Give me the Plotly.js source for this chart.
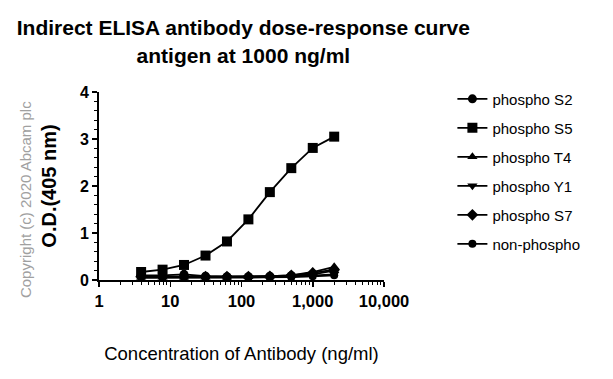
<!DOCTYPE html>
<html>
<head>
<meta charset="utf-8">
<script src="https://cdn.plot.ly/plotly-3.0.1.min.js"></script>
<style>body{margin:0;background:#fff}#chart{width:613px;height:379px}</style>
</head>
<body>
<div id="chart"></div>
<script>
const concentrations = [3.9, 7.8, 15.6, 31.25, 62.5, 125, 250, 500, 1000, 2000];
const seriesNames = ["phospho S2", "phospho S5", "phospho T4", "phospho Y1", "phospho S7", "non-phospho"];
const phosphoS2 = [0.10, 0.10, 0.12, 0.08, 0.07, 0.07, 0.08, 0.09, 0.12, 0.20];
const phosphoS5 = [0.17, 0.22, 0.32, 0.52, 0.82, 1.29, 1.87, 2.38, 2.81, 3.05];
const phosphoT4 = [0.06, 0.06, 0.06, 0.06, 0.06, 0.07, 0.08, 0.10, 0.17, 0.28];
const phosphoY1 = [0.05, 0.05, 0.05, 0.05, 0.05, 0.05, 0.06, 0.07, 0.09, 0.12];
const phosphoS7 = [0.07, 0.07, 0.07, 0.07, 0.07, 0.07, 0.08, 0.10, 0.15, 0.22];
const nonPhospho = [0.05, 0.05, 0.05, 0.05, 0.05, 0.05, 0.05, 0.06, 0.08, 0.10];
const xTickVals = [1, 10, 100, 1000, 10000];
const xTickText = ["1", "10", "100", "1,000", "10,000"];

const allValues = [phosphoS2, phosphoS5, phosphoT4, phosphoY1, phosphoS7, nonPhospho];
const symbols = ["circle", "square", "triangle-up", "triangle-down", "diamond", "circle"];
const sizes = [9, 10, 9, 9, 9, 8];

const traces = allValues.map((vals, i) => ({
  x: concentrations,
  y: vals,
  name: seriesNames[i],
  type: "scatter",
  mode: "lines+markers",
  legendgroup: "g" + i,
  line: {color: "#000", width: 1.8},
  marker: {symbol: symbols[i], size: sizes[i], color: "#000"}
}));

const font = "Arial, 'Liberation Sans', sans-serif";
const layout = {
  width: 613, height: 379,
  margin: {l: 99, r: 229, t: 92, b: 99},
  paper_bgcolor: "#fff", plot_bgcolor: "#fff",
  showlegend: true,
  title: {
    text: "<b>Indirect ELISA antibody dose-response curve<br>antigen at 1000 ng/ml</b>",
    font: {family: font, size: 21, color: "#000"},
    xref: "container", yref: "container",
    x: 0.397, xanchor: "center", y: 0.907, yanchor: "middle"
  },
  xaxis: {
    type: "log", range: [0, 4],
    tickvals: xTickVals, ticktext: xTickText,
    ticks: "outside", ticklen: 5, tickwidth: 1.5, tickcolor: "#000",
    showline: true, linecolor: "#000", linewidth: 2,
    showgrid: false, zeroline: false,
    tickfont: {family: font, size: 16.5, color: "#000", weight: "bold"},
    minor: {ticks: "outside", ticklen: 3, tickcolor: "#000", tickwidth: 1, showgrid: false,
            tickvals: [2,3,4,5,6,7,8,9,20,30,40,50,60,70,80,90,200,300,400,500,600,700,800,900,2000,3000,4000,5000,6000,7000,8000,9000]},
    title: {text: "Concentration of Antibody (ng/ml)", font: {family: font, size: 18.5, color: "#000"}, standoff: 38}
  },
  yaxis: {
    range: [0, 4], dtick: 1,
    ticks: "outside", ticklen: 5, tickwidth: 1.5, tickcolor: "#000",
    showline: true, linecolor: "#000", linewidth: 2,
    showgrid: false, zeroline: false,
    tickfont: {family: font, size: 16, color: "#000", weight: "bold"},
    minor: {ticks: "outside", ticklen: 3, tickcolor: "#000", tickwidth: 1, dtick: 0.2, showgrid: false},
    title: {text: "<b>O.D.(405 nm)</b>", font: {family: font, size: 20, color: "#000"}, standoff: 18}
  },
  legend: {
    x: 1.24, xanchor: "left", y: 1.05, yanchor: "top",
    font: {family: font, size: 15, color: "#000"},
    tracegroupgap: 6.5, bgcolor: "rgba(0,0,0,0)"
  },
  annotations: [{
    text: "Copyright (c) 2020 Abcam plc",
    xref: "paper", yref: "paper",
    x: -0.26, y: 0.43, xanchor: "center", yanchor: "middle",
    textangle: -90, showarrow: false,
    font: {family: font, size: 15, color: "#a0a0a0"}
  }]
};

Plotly.newPlot("chart", traces, layout, {displayModeBar: false, staticPlot: true});
</script>
</body>
</html>
